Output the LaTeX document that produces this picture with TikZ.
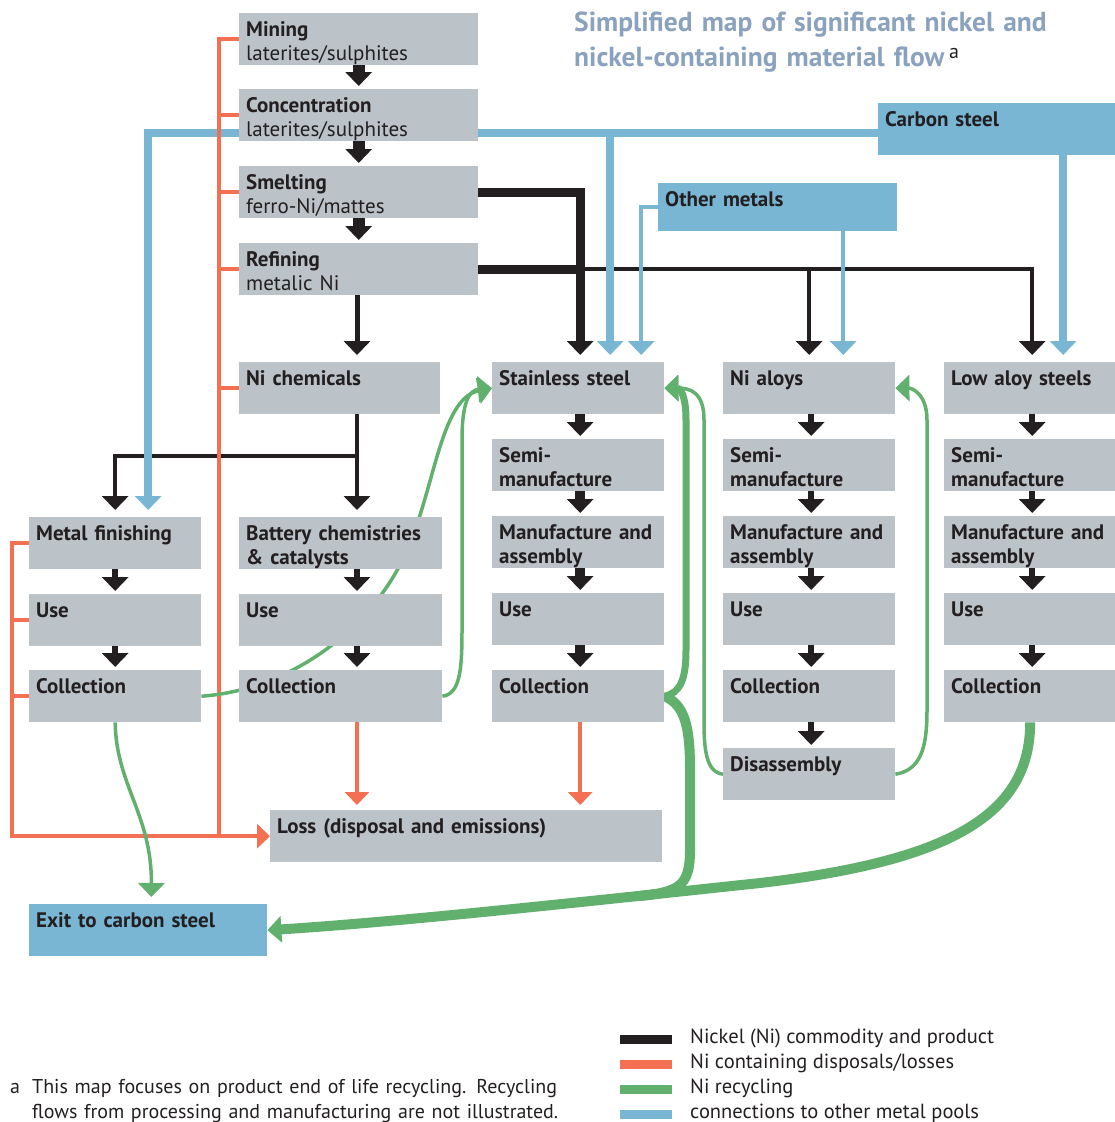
\documentclass[tikz,border=0pt]{standalone}
\usepackage{fontspec}
\setmainfont{PT Sans}
\usetikzlibrary{arrows.meta}

\definecolor{boxgray}{HTML}{BBC3C8}
\definecolor{poolblue}{HTML}{79B6D4}
\definecolor{recgreen}{HTML}{62B06E}
\definecolor{lossred}{HTML}{F37053}
\definecolor{niblack}{HTML}{231F20}
\definecolor{titleblue}{HTML}{8AA2BE}

\pgfdeclarelayer{back}
\pgfsetlayers{back,main}

\tikzset{
  box/.style={fill=boxgray, anchor=north west, inner xsep=7pt, inner ysep=0pt,
    text width=#1, align=left, text height=23pt, text depth=29pt,
    font=\fontsize{21}{24}\selectfont\bfseries, text=niblack},
  box/.default=158pt,
  poolbox/.style={box=#1, fill=poolblue},
  flowtip/.style={-{Triangle[width=26pt,length=14pt]}},
  stepflow/.style={draw=niblack, line width=#1, flowtip, shorten >=3pt},
  stepflow/.default=6pt,
  niline/.style={draw=niblack, line width=#1, flowtip, shorten >=7pt},
  niline/.default=4.5pt,
  poolline/.style={draw=poolblue, line width=#1, flowtip, shorten >=7pt},
  poolline/.default=4pt,
  lossline/.style={draw=lossred, line width=4pt},
  lossarrow/.style={lossline, -{Triangle[width=24pt,length=13pt]}},
  recline/.style={draw=recgreen, line width=#1, flowtip},
  recline/.default=3.5pt,
  legtext/.style={anchor=base west, inner sep=0pt, font=\fontsize{20.5}{25}\selectfont, text=niblack},
  legkey/.style={minimum width=52pt, minimum height=9pt, inner sep=0pt}
}

\begin{document}
\begin{tikzpicture}[x=1pt, y=-1pt]
    \useasboundingbox (0,0) rectangle (1115,1122);

    % title
    \node[anchor=base west, inner sep=0pt, text width=540pt, align=left,
      font=\fontsize{27.5}{35}\selectfont\bfseries, text=titleblue] (title) at (574,31)
      {Simplified map of significant nickel and\\nickel-containing material flow\,\textcolor{niblack}{\mdseries\raisebox{8pt}{\fontsize{20}{20}\selectfont a}}};

    % processing chain
    \node[box=225pt] (mining) at (239,13) {Mining\\\mdseries laterites/sulphites};
    \node[box=225pt] (conc) at (239,89) {Concentration\\\mdseries laterites/sulphites};
    \node[box=225pt] (smelt) at (239,166) {Smelting\\\mdseries ferro-Ni/mattes};
    \node[box=225pt] (refin) at (239,243) {Refining\\\mdseries metalic Ni};
    \node[box=187pt] (nichem) at (239,362) {Ni chemicals};

    % other metal pools
    \node[poolbox=226pt] (carbon) at (878,103) {Carbon steel};
    \node[poolbox=225pt, text depth=25pt] (other) at (658,183) {Other metals};

    % metal finishing
    \node[box] (mfin) at (29,517) {Metal finishing};
    \node[box] (muse) at (29,594) {Use};
    \node[box] (mcoll) at (29,670) {Collection};

    % batteries
    \node[box=189pt] (batt) at (239,517) {Battery chemistries\\\& catalysts};
    \node[box=189pt] (buse) at (239,594) {Use};
    \node[box=189pt] (bcoll) at (239,670) {Collection};

    % stainless steel
    \node[box] (stain) at (492,362) {Stainless steel};
    \node[box] (ssemi) at (492,439) {Semi-\\manufacture};
    \node[box] (sman) at (492,516) {Manufacture~and\\assembly};
    \node[box] (suse) at (492,593) {Use};
    \node[box] (scoll) at (492,670) {Collection};

    % nickel alloys
    \node[box] (nialoy) at (723,362) {Ni aloys};
    \node[box] (asemi) at (723,439) {Semi-\\manufacture};
    \node[box] (aman) at (723,516) {Manufacture~and\\assembly};
    \node[box] (ause) at (723,593) {Use};
    \node[box] (acoll) at (723,670) {Collection};
    \node[box] (adis) at (723,748) {Disassembly};

    % low alloy steels
    \node[box] (low) at (944,362) {Low aloy steels};
    \node[box] (lsemi) at (944,439) {Semi-\\manufacture};
    \node[box] (lman) at (944,516) {Manufacture~and\\assembly};
    \node[box] (luse) at (944,593) {Use};
    \node[box] (lcoll) at (944,670) {Collection};

    % sinks
    \node[box=378pt] (loss) at (270,810) {Loss (disposal and emissions)};
    \node[poolbox=224pt] (exit) at (29,904) {Exit to carbon steel};

    % helper coordinates
    \coordinate (chemx) at (357,456);
    \coordinate (sx) at ([xshift=2pt]stain.north);
    \coordinate (lx) at ([xshift=2pt]low.north);
    \coordinate (cline) at ([yshift=-3.5pt]carbon.west);
    \coordinate (sbx) at ([xshift=32pt]stain.north);
    \coordinate (abx) at ([xshift=34pt]nialoy.north);
    \coordinate (lbx) at ([xshift=33pt]low.north);
    \coordinate (redx) at (219,0);
    \coordinate (leftx) at (12,0);

    % steps inside each chain
    \foreach \a/\b in {mining/conc, conc/smelt, smelt/refin}
        \draw[stepflow=12pt] (\a) -- (\b);
    \foreach \a/\b in {mfin/muse, muse/mcoll}
        \draw[stepflow] (\a) -- (\b);
    \foreach \a/\b in {batt/buse, buse/bcoll}
        \draw[stepflow] (\a.south -| chemx) -- (\b.north -| chemx);
    \foreach \a/\b in {stain/ssemi, ssemi/sman, sman/suse, suse/scoll}
        \draw[stepflow=10pt] (\a.south -| sx) -- (\b.north -| sx);
    \foreach \a/\b in {nialoy/asemi, asemi/aman, aman/ause, ause/acoll, acoll/adis}
        \draw[stepflow] ([xshift=2pt]\a.south) -- ([xshift=2pt]\b.north);
    \foreach \a/\b in {low/lsemi, lsemi/lman, lman/luse, luse/lcoll}
        \draw[stepflow] (\a.south -| lx) -- (\b.north -| lx);

    \begin{pgfonlayer}{back}
    % nickel commodity and product
    \draw[niline=9pt] (smelt.east) -| (sx);
    \draw[niline] (refin.east) -| (lx);
    \draw[draw=niblack, line width=9pt] (refin.east) -- (refin.east -| sx);
    \draw[niline] (refin.east -| nialoy.north) -- (nialoy.north);
    \draw[niline=5pt] (refin.south -| chemx) -- (nichem.north -| chemx);
    \draw[niline] (nichem.south -| chemx) -- (batt.north -| chemx);
    \draw[niline] (chemx) -| (mfin.north);

    % connections to other metal pools
    \draw[poolline=8pt] (cline) -| ([xshift=33pt]mfin.north);
    \draw[poolline=8pt] (sbx |- cline) -- (sbx);
    \draw[poolline] (other.west) -| ([xshift=63pt]stain.north);
    \draw[poolline] (abx |- other.south) -- (abx);
    \draw[poolline=8pt] (lbx |- carbon.south) -- (lbx);

    % disposals and losses
    \draw[lossline] (mining.west) -| (redx |- loss.west);
    \foreach \b in {conc, smelt, refin, nichem}
        \draw[lossline] (\b.west) -- (\b.west -| redx);
    \draw[lossarrow] (mfin.west) -| (leftx |- loss.west) -- (loss.west);
    \foreach \b in {muse, mcoll}
        \draw[lossline] (\b.west) -- (\b.west -| leftx);
    \draw[lossarrow, shorten >=5pt] (bcoll.south -| chemx) -- (loss.north -| chemx);
    \draw[lossarrow, shorten >=5pt] (scoll.south -| sx) -- (loss.north -| sx);

    % recycling
    \draw[recline, shorten >=7pt] (mcoll.south) .. controls (116,785) and (152,815) .. ([xshift=3pt]exit.north);
    \draw[recline] (mcoll.east) .. controls (290,690) and (370,630) .. (405,555)
        .. controls (435,490) and (440,398) .. (stain.west);
    \draw[recline] (bcoll.east) .. controls (460,694) and (462,670) .. (462,630) -- (462,440)
        .. controls (462,400) and (470,390) .. (stain.west);
    \draw[recline=7pt] (scoll.east) .. controls (680,693) and (686,680) .. (686,650) -- (686,420)
        .. controls (686,395) and (680,388) .. (stain.east);
    \draw[recline] (adis.west) .. controls (706,772) and (704,750) .. (704,720) -- (704,420)
        .. controls (704,392) and (690,388) .. (stain.east);
    \draw[recline] (adis.east) .. controls (922,770) and (927,745) .. (927,710) -- (927,420)
        .. controls (927,394) and (912,388) .. (nialoy.east);
    \draw[recline=10pt, -] (scoll.east) .. controls (686,705) and (690,730) .. (690,770) -- (690,850)
        .. controls (690,885) and (680,892) .. (640,896);
    \draw[recline=10pt] (lcoll.south) .. controls (1030,810) and (960,860) .. (760,883)
        .. controls (600,900) and (400,922) .. (exit.east);
    \end{pgfonlayer}

    % legend
    \node[legkey, fill=niblack] (keyni) at (646,1039) {};
    \node[legkey, fill=lossred] (keyloss) at (646,1064) {};
    \node[legkey, fill=recgreen] (keyrec) at (646,1089) {};
    \node[legkey, fill=poolblue] (keypool) at (646,1114) {};
    \node[legtext] (legni) at (690,1043) {Nickel (Ni) commodity and product};
    \node[legtext] (legloss) at (690,1068) {Ni containing disposals/losses};
    \node[legtext] (legrec) at (690,1093) {Ni recycling};
    \node[legtext] (legpool) at (690,1118) {connections to other metal pools};

    % footnote
    \node[legtext, font=\fontsize{20}{25}\selectfont] (fnmark) at (10,1093) {a};
    \node[legtext, font=\fontsize{20}{25}\selectfont, text width=570pt, align=left] (fntext) at (32,1093)
      {This map focuses on product end of life recycling. Recycling\\flows from processing and manufacturing are not illustrated.};
\end{tikzpicture}
\end{document}
